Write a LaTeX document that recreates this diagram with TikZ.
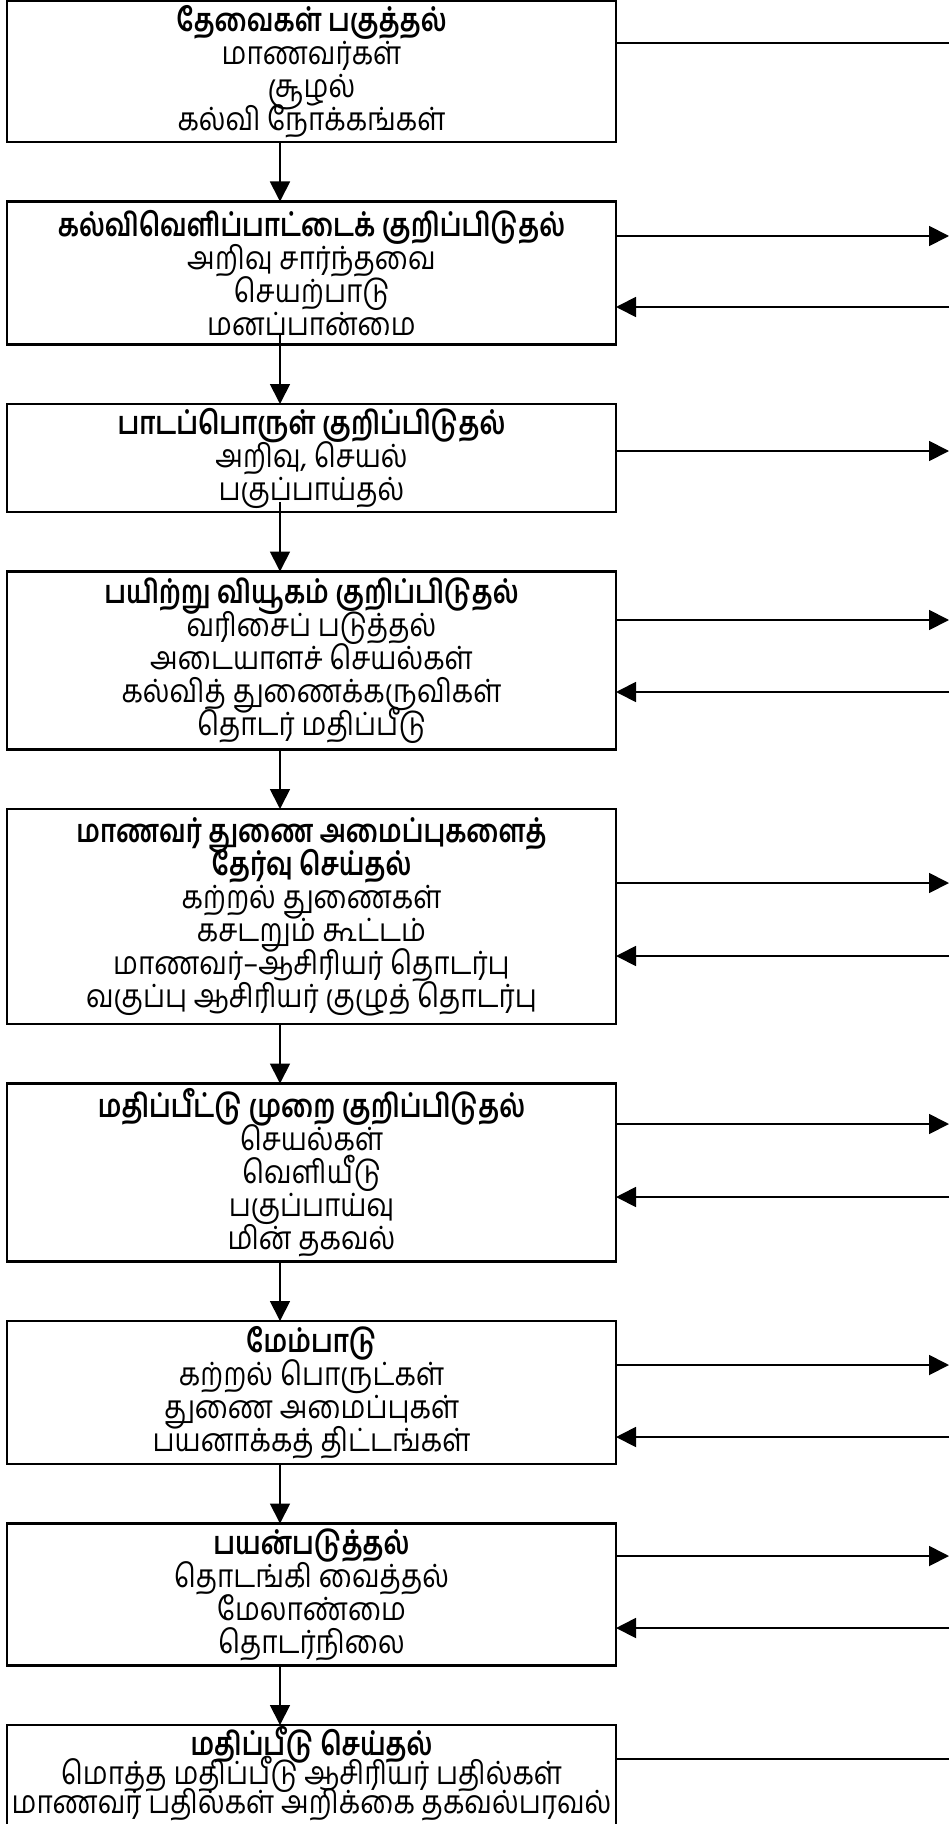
\documentclass[tikz,border=0pt]{standalone}
\usepackage{fontspec}
\newfontfamily\tamilfont[Script=Tamil,UprightFeatures={FakeStretch=0.87},BoldFeatures={FakeStretch=0.81}]{Hind Madurai}
\usepackage{tikz}
\usetikzlibrary{positioning,arrows.meta}
% fixed-height text block for one box
\newcommand{\stagetext}[3][16.5pt]{\parbox[c][#2][c]{304.5pt}{\centering\lineskiplimit=-100pt\baselineskip=#1 #3}}

\begin{document}
\begin{tikzpicture}[x=0.5pt,y=-0.5pt,
		stage/.style={rectangle, draw=black, line width=1.3pt, minimum width=304.5pt, inner sep=0pt, outer sep=0pt, font=\tamilfont\fontsize{16}{16.5}\selectfont},
		flow/.style={line width=0.9pt, -{Triangle[length=10pt,width=10pt]}},
		plain/.style={line width=0.9pt}]
		\useasboundingbox (0,0) rectangle (949,1824);
		
		\node[stage, anchor=north west] (analyse) at (7,1) {\stagetext{70.5pt}{{\bfseries தேவைகள் பகுத்தல்}\\மாணவர்கள்\\சூழல்\\கல்வி நோக்கங்கள்}};
		\node[stage, below=29.75pt of analyse] (goals) {\stagetext{71.5pt}{{\bfseries கல்விவெளிப்பாட்டைக் குறிப்பிடுதல்}\\அறிவு சார்ந்தவை\\செயற்பாடு\\மனப்பான்மை}};
		\node[stage, below=29.75pt of goals] (content) {\stagetext{54pt}{{\bfseries பாடப்பொருள் குறிப்பிடுதல்}\\அறிவு, செயல்\\பகுப்பாய்தல்}};
		\node[stage, below=29.75pt of content] (strategy) {\stagetext{89pt}{{\bfseries பயிற்று வியூகம் குறிப்பிடுதல்}\\வரிசைப் படுத்தல்\\அடையாளச் செயல்கள்\\கல்வித் துணைக்கருவிகள்\\தொடர் மதிப்பீடு}};
		\node[stage, below=29.75pt of strategy] (support) {\stagetext{107.5pt}{{\bfseries மாணவர் துணை அமைப்புகளைத்}\\{\bfseries தேர்வு செய்தல்}\\கற்றல் துணைகள்\\கசடறும் கூட்டம்\\மாணவர்–ஆசிரியர் தொடர்பு\\வகுப்பு ஆசிரியர் குழுத் தொடர்பு}};
		\node[stage, below=29.75pt of support] (assess) {\stagetext{89pt}{{\bfseries மதிப்பீட்டு முறை குறிப்பிடுதல்}\\செயல்கள்\\வெளியீடு\\பகுப்பாய்வு\\மின் தகவல்}};
		\node[stage, below=29.75pt of assess] (develop) {\stagetext{71.5pt}{{\bfseries மேம்பாடு}\\கற்றல் பொருட்கள்\\துணை அமைப்புகள்\\பயனாக்கத் திட்டங்கள்}};
		\node[stage, below=29.75pt of develop] (use) {\stagetext{71pt}{{\bfseries பயன்படுத்தல்}\\தொடங்கி வைத்தல்\\மேலாண்மை\\தொடர்நிலை}};
		\node[stage, below=29.75pt of use] (evaluate) {\stagetext[14.5pt]{53.5pt}{{\bfseries மதிப்பீடு செய்தல்}\\மொத்த மதிப்பீடு ஆசிரியர் பதில்கள்\\மாணவர் பதில்கள் அறிக்கை தகவல்பரவல்\vspace{4.6pt}}};
		
		\coordinate (spine) at (280,0);
		\coordinate (rim) at (949,0);
		% down the chain
		\foreach \a/\b/\l in {analyse/goals/0, goals/content/5, content/strategy/5, strategy/support/0, support/assess/0, assess/develop/0, develop/use/0, use/evaluate/0}
			\draw[flow] ([yshift=\l pt]\a.south -| spine) -- (\b.north -| spine);
		% out to the right and back
		\foreach \b/\y in {goals/236, content/451, strategy/620, support/883, assess/1124, develop/1365, use/1556}
			\draw[flow] (\b.east |- 0,\y) -- (rim |- 0,\y);
		\foreach \b/\y in {goals/307, strategy/692, support/956, assess/1197, develop/1437, use/1628}
			\draw[flow] (rim |- 0,\y) -- (\b.east |- 0,\y);
		\draw[plain] (analyse.east |- 0,43) -- (rim |- 0,43);
		\draw[plain] (evaluate.east |- 0,1759) -- (rim |- 0,1759);
	\end{tikzpicture}
\end{document}
